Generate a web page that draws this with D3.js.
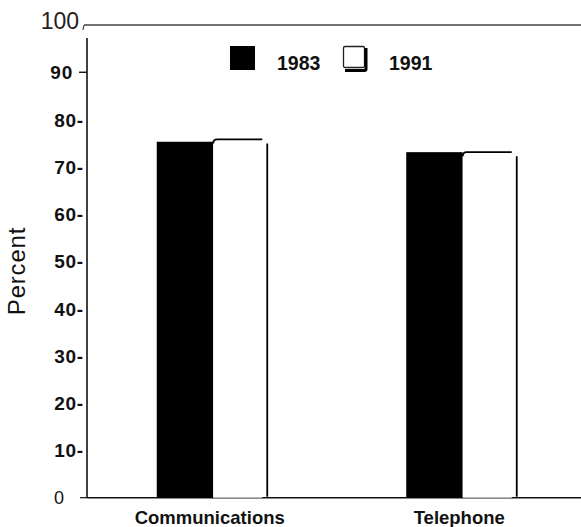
<!DOCTYPE html>
<html><head><meta charset="utf-8">
<script src="https://cdn.jsdelivr.net/npm/d3@7"></script>
<style>
html,body{margin:0;padding:0;background:#fff;}
svg{display:block;font-family:"Liberation Sans",Arial,sans-serif;}
</style></head>
<body>
<svg id="chart" width="581" height="527"></svg>
<script>
const categories = ["Communications", "Telephone"];
const series = ["1983", "1991"];
const values1983 = [75.3, 73.1];
const values1991 = [75.8, 73.1];
const yTickValues = [0, 10, 20, 30, 40, 50, 60, 70, 80, 90, 100];
const yLabel = "Percent";

const svg = d3.select("#chart");
const y = d3.scaleLinear().domain([0, 100]).range([497.7, 25]);
const x0 = d3.scaleBand().domain(categories).range([87, 586]).padding(0);
const xOff = d3.scaleOrdinal().domain(series).range([-55, 1.5]);
const xW = d3.scaleOrdinal().domain(series).range([56.5, 49]);

const data = [];
categories.forEach((c, i) => {
  data.push({cat: c, s: "1983", v: values1983[i]});
  data.push({cat: c, s: "1991", v: values1991[i]});
});

// top frame line
svg.append("line").attr("x1", 84).attr("x2", 581).attr("y1", y(100)).attr("y2", y(100))
  .attr("stroke", "#444").attr("stroke-width", 1.6);
svg.append("line").attr("x1", 84).attr("x2", 83).attr("y1", y(100)).attr("y2", y(100) + 5)
  .attr("stroke", "#444").attr("stroke-width", 1.2);

// y axis line
svg.append("line").attr("x1", 87).attr("x2", 87).attr("y1", 38).attr("y2", y(0))
  .attr("stroke", "#111").attr("stroke-width", 1.6);

// baseline
svg.append("line").attr("x1", 87).attr("x2", 581).attr("y1", y(0)).attr("y2", y(0))
  .attr("stroke", "#111").attr("stroke-width", 1.6);

// y tick labels
const tg = svg.append("g");
yTickValues.forEach(v => {
  if (v === 100) {
    tg.append("text").attr("x", 79).attr("y", y(v) + 4).attr("text-anchor", "end")
      .attr("font-size", 23).attr("fill", "#222").text(String(v));
  } else if (v === 0) {
    tg.append("text").attr("x", 64).attr("y", y(v) + 6).attr("text-anchor", "end")
      .attr("font-size", 18).attr("fill", "#111").text(String(v));
    tg.append("line").attr("x1", 80).attr("x2", 87).attr("y1", y(v)).attr("y2", y(v))
      .attr("stroke", "#111").attr("stroke-width", 1.2);
  } else if (v === 90) {
    tg.append("text").attr("x", 73).attr("y", y(v) + 7).attr("text-anchor", "end")
      .attr("font-size", 19).attr("font-weight", "bold").attr("letter-spacing", 0.8).attr("fill", "#111").text(String(v));
    tg.append("line").attr("x1", 79).attr("x2", 87).attr("y1", y(v)).attr("y2", y(v))
      .attr("stroke", "#111").attr("stroke-width", 1.4);
  } else {
    tg.append("text").attr("x", 84).attr("y", y(v) + 7).attr("text-anchor", "end")
      .attr("font-size", 19).attr("font-weight", "bold").attr("letter-spacing", 0.8).attr("fill", "#111").text(v + "-");
  }
});

// y label
svg.append("text").attr("transform", `translate(25,${271}) rotate(-90)`)
  .attr("text-anchor", "middle").attr("font-size", 24).attr("letter-spacing", 0.8).attr("fill", "#111").text(yLabel);

// bars
const bars = svg.append("g");
data.forEach(d => {
  const xl = x0(d.cat) + x0.bandwidth() / 2 + xOff(d.s);
  const w = xW(d.s);
  const top = y(d.v);
  if (d.s === "1983") {
    bars.append("rect").attr("x", xl).attr("y", top).attr("width", w).attr("height", y(0) - top)
      .attr("fill", "#000");
  } else {
    bars.append("rect").attr("x", xl).attr("y", top).attr("width", w).attr("height", y(0) - top)
      .attr("fill", "#fff");
    bars.append("path")
      .attr("d", `M${xl},${top + 4} Q${xl},${top} ${xl + 4},${top} H${xl + w}`)
      .attr("fill", "none").attr("stroke", "#000").attr("stroke-width", 1.8);
    bars.append("line").attr("x1", xl + w + 5).attr("x2", xl + w + 5)
      .attr("y1", top + 4).attr("y2", y(0) - 1)
      .attr("stroke", "#000").attr("stroke-width", 1.8);
  }
});

// category labels
svg.append("g").selectAll("text").data(categories).join("text")
  .attr("x", d => x0(d) + x0.bandwidth() / 2 - 2)
  .attr("y", 524)
  .attr("text-anchor", "middle").attr("font-size", 18.5).attr("font-weight", "bold").attr("fill", "#111")
  .text(d => d);

// legend
const lg = svg.append("g");
lg.append("rect").attr("x", 230).attr("y", 46).attr("width", 25).attr("height", 24).attr("fill", "#000");
lg.append("text").attr("x", 277).attr("y", 70).attr("font-size", 19.5).attr("font-weight", "bold").attr("fill", "#111").text(series[0]);
lg.append("rect").attr("x", 343.5).attr("y", 46.5).attr("width", 21).attr("height", 21)
  .attr("fill", "#fff").attr("stroke", "#222").attr("stroke-width", 1.3).attr("rx", 1.5);
lg.append("path").attr("d", "M366,48 V69 Q366,70.5 364.5,70.5 H345")
  .attr("fill", "none").attr("stroke", "#000").attr("stroke-width", 3);
lg.append("text").attr("x", 389).attr("y", 70).attr("font-size", 19.5).attr("font-weight", "bold").attr("fill", "#111").text(series[1]);
</script>
</body></html>
